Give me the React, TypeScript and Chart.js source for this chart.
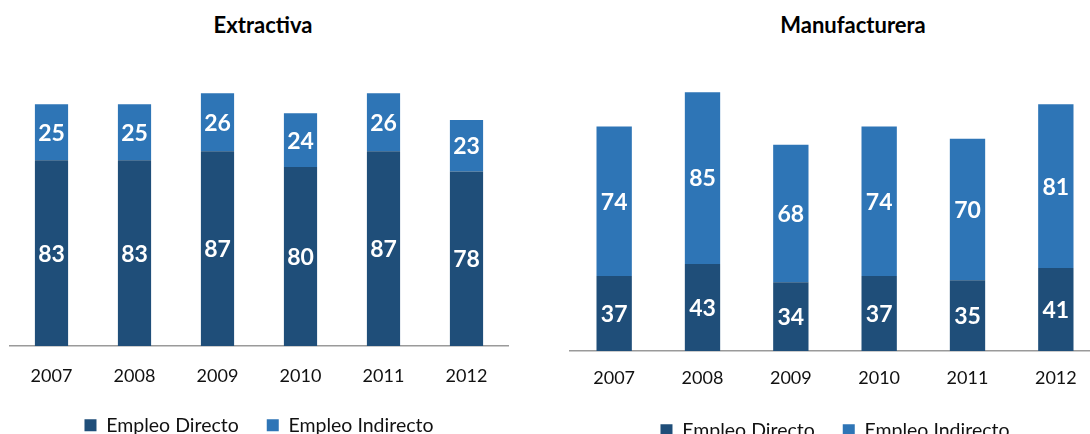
import React, { useEffect, useRef } from "react";
import { Chart, registerables } from "chart.js";

Chart.register(...registerables);

const categories = ["2007", "2008", "2009", "2010", "2011", "2012"];
const seriesNames = ["Empleo Directo", "Empleo Indirecto"];
const extractivaDirecto = [83, 83, 87, 80, 87, 78];
const extractivaIndirecto = [25, 25, 26, 24, 26, 23];
const manufactureraDirecto = [37, 43, 34, 37, 35, 41];
const manufactureraIndirecto = [74, 85, 68, 74, 70, 81];

const DARK = "#1F4E79";
const LIGHT = "#2E75B6";
const FONT = "Lato, 'Liberation Sans', sans-serif";

const labelPlugin = {
  id: "segLabels",
  afterDatasetsDraw(chart: any) {
    const ctx = chart.ctx;
    ctx.save();
    ctx.font = `bold 23px ${FONT}`;
    ctx.fillStyle = "#ffffff";
    ctx.textAlign = "center";
    ctx.textBaseline = "middle";
    chart.data.datasets.forEach((ds: any, di: number) => {
      const meta = chart.getDatasetMeta(di);
      meta.data.forEach((el: any, i: number) => {
        const y = (el.y + el.base) / 2 + 1;
        ctx.fillText(String(ds.data[i]), el.x, y);
      });
    });
    ctx.restore();
  },
};

type PanelProps = {
  left: number;
  width: number;
  height: number;
  padLeft: number;
  padRight: number;
  padTop: number;
  max: number;
  tickPad: number;
  extra: number;
  directo: number[];
  indirecto: number[];
};

function Panel(p: PanelProps) {
  const ref = useRef<HTMLCanvasElement | null>(null);
  useEffect(() => {
    if (!ref.current) return;
    const chart = new Chart(ref.current, {
      type: "bar",
      data: {
        labels: categories,
        datasets: [
          {
            label: seriesNames[0],
            data: p.directo,
            backgroundColor: DARK,
            borderWidth: 0,
          },
          {
            label: seriesNames[1],
            data: p.indirecto,
            backgroundColor: LIGHT,
            borderWidth: 0,
          },
        ],
      },
      options: {
        responsive: false,
        animation: false,
        devicePixelRatio: 1,
        layout: {
          padding: { left: p.padLeft, right: p.padRight, top: p.padTop, bottom: 0 },
        },
        datasets: {
          bar: { categoryPercentage: 1, barPercentage: 0.4 },
        },
        scales: {
          x: {
            stacked: true,
            grid: { display: false },
            border: { display: true, color: "#9a9a9a", width: 1.5 },
            ticks: {
              padding: p.tickPad,
              color: "#111",
              font: { family: FONT, size: 18 },
            },
            afterFit: (s: any) => {
              s.height += p.extra;
            },
          },
          y: {
            stacked: true,
            display: false,
            min: 0,
            max: p.max,
          },
        },
        plugins: {
          tooltip: { enabled: false },
          title: { display: false },
          legend: {
            position: "bottom",
            labels: {
              boxWidth: 12,
              boxHeight: 12,
              padding: 28,
              color: "#111",
              font: { family: FONT, size: 19.5 },
            },
          },
        },
      },
      plugins: [labelPlugin],
    } as any);
    return () => chart.destroy();
  }, []);
  return (
    <canvas
      ref={ref}
      width={p.width}
      height={p.height}
      style={{ position: "absolute", left: p.left, top: 0, width: p.width, height: p.height }}
    />
  );
}

const titleStyle = (cx: number): React.CSSProperties => ({
  position: "absolute",
  left: cx - 150,
  width: 300,
  top: 12,
  textAlign: "center",
  fontFamily: FONT,
  fontWeight: "bold",
  fontSize: 22,
  lineHeight: "26px",
  color: "#000",
});

export default function App() {
  return (
    <div
      style={{
        position: "absolute",
        left: 0,
        top: 0,
        width: 1090,
        height: 434,
        overflow: "hidden",
        background: "#fff",
      }}
    >
      <div style={titleStyle(263)}>Extractiva</div>
      <div style={titleStyle(853)}>Manufacturera</div>
      <Panel
        left={0}
        width={530}
        height={445}
        padLeft={10}
        padRight={22}
        padTop={77.5}
        max={120}
        tickPad={11}
        extra={-10.2}
        directo={extractivaDirecto}
        indirecto={extractivaIndirecto}
      />
      <Panel
        left={560}
        width={550}
        height={450}
        padLeft={10}
        padRight={10}
        padTop={88.1}
        max={130}
        tickPad={8}
        extra={-4}
        directo={manufactureraDirecto}
        indirecto={manufactureraIndirecto}
      />
    </div>
  );
}
